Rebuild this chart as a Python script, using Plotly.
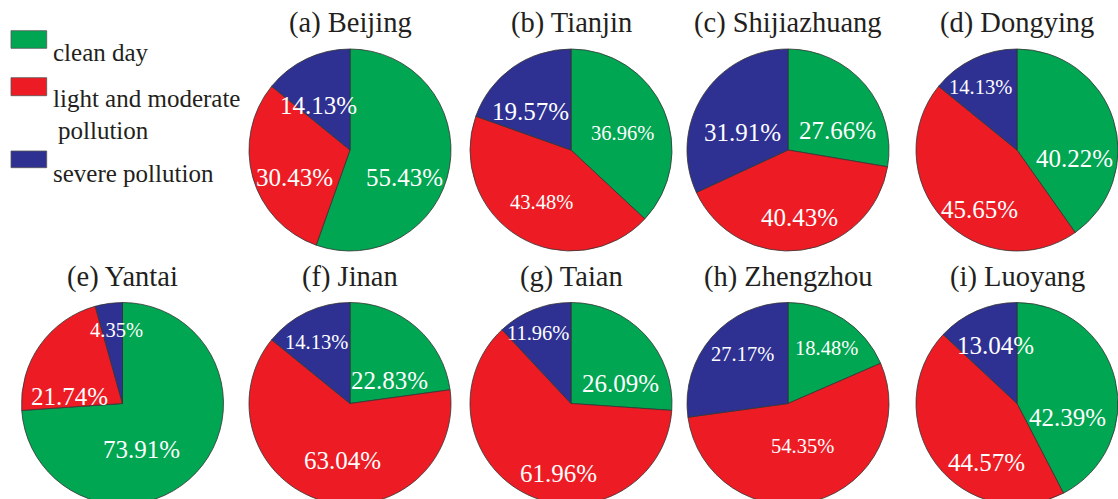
import math
import plotly.graph_objects as go

# Share of days per pollution class for each city (%)
cities = ["(a) Beijing", "(b) Tianjin", "(c) Shijiazhuang", "(d) Dongying",
          "(e) Yantai", "(f) Jinan", "(g) Taian", "(h) Zhengzhou", "(i) Luoyang"]
categories = ["clean day", "light and moderate pollution", "severe pollution"]
clean_day = [55.43, 36.96, 27.66, 40.22, 73.91, 22.83, 26.09, 18.48, 42.39]
light_moderate = [30.43, 43.48, 40.43, 45.65, 21.74, 63.04, 61.96, 54.35, 44.57]
severe = [14.13, 19.57, 31.91, 14.13, 4.35, 14.13, 11.96, 27.17, 13.04]

colors = ["#00A651", "#ED1C24", "#2E3192"]
SERIF = "Liberation Serif"
INK = "#231F20"

W, H = 1118, 510
R = 101
# pie centres in pixels (two rows, legend occupies the first slot of row one)
centres = [(350, 150), (571, 150), (788, 150), (1017, 150),
           (122.5, 403.5), (350, 403.5), (571, 403.5), (788, 403.5), (1017, 403.5)]

BIG, SMALL = 25, 20.5
# label placement per slice: (radius fraction, angle nudge in degrees, font size)
label_style = [
    [(0.55, 3.7, BIG), (0.56, 2.4, BIG), (0.67, -2.7, BIG)],
    [(0.54, 5.4, SMALL), (0.59, -1.3, SMALL), (0.66, -1.8, BIG)],
    [(0.60, 5.2, BIG), (0.53, -5.3, BIG), (0.55, 2.8, BIG)],
    [(0.57, 11.6, BIG), (0.57, -6.9, BIG), (0.72, -4.3, SMALL)],
    [(0.36, 15.5, BIG), (0.57, -12.7, BIG), (0.73, 3.2, SMALL)],
    [(0.54, 4.6, BIG), (0.42, -6.1, BIG), (0.70, -3.3, SMALL)],
    [(0.60, 8.0, BIG), (0.56, -12.2, BIG), (0.77, -3.4, SMALL)],
    [(0.67, 1.6, SMALL), (0.45, -3.6, SMALL), (0.66, 6.3, SMALL)],
    [(0.50, 12.6, BIG), (0.53, -17.7, BIG), (0.75, 6.7, BIG)],
]


def clamp(v):
    return min(1.0, max(0.0, v))


def label(x_px, y_px, text, size, color, anchor="center"):
    if size == BIG:
        # large text goes in an inline serif span inside a small base font
        return dict(
            x=x_px / W, y=1 - y_px / H, xref="paper", yref="paper",
            text=f"<span style='font-family:{SERIF};font-size:{size}px'>{text}</span>",
            showarrow=False, xanchor=anchor, yanchor="middle", yshift=-15,
            font=dict(size=12, color=color),
        )
    return dict(
        x=x_px / W, y=1 - y_px / H, xref="paper", yref="paper",
        text=text, showarrow=False, xanchor=anchor, yanchor="middle",
        font=dict(family=SERIF, size=size, color=color),
    )


fig = go.Figure()
annotations = []

for i, city in enumerate(cities):
    cx, cy = centres[i]
    vals = [clean_day[i], light_moderate[i], severe[i]]
    fig.add_trace(go.Pie(
        labels=categories, values=vals, sort=False, direction="clockwise",
        rotation=0, textinfo="none", hoverinfo="label+percent",
        marker=dict(colors=colors, line=dict(color="#333333", width=0.8)),
        domain=dict(x=[clamp((cx - R) / W), clamp((cx + R) / W)],
                    y=[clamp(1 - (cy + R) / H), clamp(1 - (cy - R) / H)]),
        showlegend=False, name=city,
    ))
    # panel title
    annotations.append(label(cx, cy - 127, city, 28.5, INK))
    # percentage labels placed along each slice's mid angle
    total = sum(vals)
    start = 0.0
    for v, (rf, nudge, size) in zip(vals, label_style[i]):
        sweep = 360.0 * v / total
        theta = math.radians(start + sweep / 2 + nudge)
        start += sweep
        lx = cx + rf * R * math.sin(theta)
        ly = cy - rf * R * math.cos(theta)
        annotations.append(label(lx, ly, f"{v:.2f}%", size, "white"))

# hand-drawn legend in the top-left slot
legend_rows = [(30.7, 48.3), (77.7, 95.7), (151, 167.7)]
legend_text = [("clean day", 50.7, 38), ("light and moderate", 50.7, 84),
               ("pollution", 55.7, 115), ("severe pollution", 50.7, 158)]
shapes = []
for (y0, y1), c in zip(legend_rows, colors):
    shapes.append(dict(type="rect", xref="paper", yref="paper",
                       x0=11 / W, x1=46.7 / W, y0=1 - y1 / H, y1=1 - y0 / H,
                       fillcolor=c, line=dict(color="#555555", width=0.8)))
for t, x, y in legend_text:
    annotations.append(label(x, y, t, BIG, INK, anchor="left"))

fig.update_layout(
    width=W, height=H, margin=dict(l=0, r=0, t=0, b=0),
    paper_bgcolor="white", plot_bgcolor="white",
    annotations=annotations, shapes=shapes, showlegend=False,
)

fig.write_html(
    "out.html",
    post_script="document.documentElement.style.overflow='hidden';"
                "document.body.style.overflow='hidden';",
)
